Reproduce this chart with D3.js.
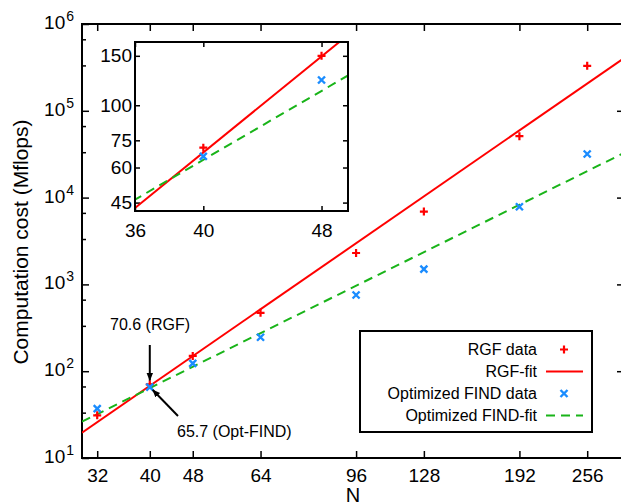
<!DOCTYPE html>
<html>
<head>
	<title>Computation cost vs N</title>
	<script type="text/javascript" src="https://d3js.org/d3.v7.min.js"></script>
	<style>
		body { margin: 0; background: #fff; }
		text { font-family: "Liberation Sans", Arial, sans-serif; fill: #000; }
	</style>
</head>
<body>
	<script type="text/javascript">
		// data
		var nValues = [32, 40, 48, 64, 96, 128, 192, 256];
		var rgfData = [31, 70.6, 150, 470, 2300, 6900, 51000, 330000];
		var findData = [37, 65.7, 123, 246, 755, 1500, 7850, 31800];

		// fit lines, end points at the plot edges
		var fitN = [30, 298];
		var rgfFit = [19.6, 397000];
		var findFit = [26.2, 32300];

		var xTicks = [32, 40, 48, 64, 96, 128, 192, 256];
		var yTicks = [10, 100, 1000, 10000, 100000, 1000000];
		var yMinor = [33.3, 66.7, 333, 667, 3333, 6667, 33333, 66667, 333333, 666667];
		var insetXTicks = [36, 40, 48];
		var insetYTicks = [45, 60, 75, 100, 150];

		var red = "#ff0000", blue = "#1a8cff", green = "#19b419";

		var W = 621, H = 503;
		// note: "top" is window.top, so use other names
		var mLeft = 82, mRight = 623, mTop = 24, mBottom = 458;

		var svg = d3.select("body").append("svg").attr("width", W).attr("height", H);

		var x = d3.scaleLog().base(2).domain([30, 298]).range([mLeft, mRight]);
		var y = d3.scaleLog().domain([10, 1e6]).range([mBottom, mTop]);

		var defs = svg.append("defs");
		defs.append("marker").attr("id", "head")
			.attr("viewBox", "0 0 10 10").attr("refX", 9).attr("refY", 5)
			.attr("markerWidth", 8).attr("markerHeight", 8).attr("orient", "auto")
			.attr("markerUnits", "userSpaceOnUse")
			.append("path").attr("d", "M0,1 L10,5 L0,9 Z").attr("fill", "#000");
		defs.append("clipPath").attr("id", "mainClip").append("rect")
			.attr("x", mLeft).attr("y", mTop).attr("width", mRight - mLeft).attr("height", mBottom - mTop);

		function plus(g, px, py, s) {
			g.append("path").attr("d", "M" + (px - s) + "," + py + "H" + (px + s) + "M" + px + "," + (py - s) + "V" + (py + s))
				.attr("stroke", red).attr("stroke-width", 2.2).attr("fill", "none");
		}
		function cross(g, px, py, s) {
			g.append("path").attr("d", "M" + (px - s) + "," + (py - s) + "L" + (px + s) + "," + (py + s) + "M" + (px - s) + "," + (py + s) + "L" + (px + s) + "," + (py - s))
				.attr("stroke", blue).attr("stroke-width", 2.4).attr("fill", "none");
		}
		function plain(g) { g.select(".domain").remove(); g.selectAll("line").attr("stroke-width", 1.5); }

		// ---- main axes (inward ticks) ----
		svg.append("g").attr("transform", "translate(0," + mBottom + ")")
			.call(d3.axisBottom(x).tickValues(xTicks).tickSize(-7).tickPadding(11).tickFormat(d3.format("d")))
			.call(plain)
			.call(function (g) { g.selectAll("text").attr("font-size", 19).attr("font-family", null); });
		svg.append("g").attr("transform", "translate(0," + mTop + ")")
			.call(d3.axisTop(x).tickValues(xTicks).tickSize(-7).tickFormat("")).call(plain);
		svg.append("g").attr("transform", "translate(" + mLeft + ",0)")
			.call(d3.axisLeft(y).tickValues(yTicks).tickSize(-7).tickFormat("")).call(plain);
		svg.append("g").attr("transform", "translate(" + mLeft + ",0)")
			.call(d3.axisLeft(y).tickValues(yMinor).tickSize(-4).tickFormat("")).call(plain);
		svg.append("g").attr("transform", "translate(" + mRight + ",0)")
			.call(d3.axisRight(y).tickValues(yTicks.slice(1, 5)).tickSize(-6).tickFormat(""))
			.call(plain);

		// y labels as 10^k
		yTicks.forEach(function (v) {
			var t = svg.append("text").attr("x", 74).attr("y", y(v) + 5).attr("text-anchor", "end").attr("font-size", 19);
			t.append("tspan").text("10");
			t.append("tspan").attr("dy", -8).attr("font-size", 14).attr("dx", 1).text(Math.round(Math.log10(v)));
		});

		svg.append("rect").attr("x", mLeft).attr("y", mTop).attr("width", mRight - mLeft).attr("height", mBottom - mTop)
			.attr("fill", "none").attr("stroke", "#000").attr("stroke-width", 2);

		svg.append("text").attr("x", 353).attr("y", 502).attr("text-anchor", "middle").attr("font-size", 20).text("N");
		svg.append("text").attr("transform", "translate(28,242) rotate(-90)").attr("text-anchor", "middle")
			.attr("font-size", 21).text("Computation cost (Mflops)");

		// ---- main plot lines and points ----
		var plot = svg.append("g").attr("clip-path", "url(#mainClip)");
		var fitLine = d3.line().x(function (d) { return x(d[0]); }).y(function (d) { return y(d[1]); });
		plot.append("path").attr("d", fitLine(d3.zip(fitN, rgfFit))).attr("stroke", red).attr("stroke-width", 2).attr("fill", "none");
		plot.append("path").attr("d", fitLine(d3.zip(fitN, findFit))).attr("stroke", green).attr("stroke-width", 2)
			.attr("stroke-dasharray", "9,6").attr("fill", "none");
		nValues.forEach(function (n, i) {
			plus(plot, x(n), y(rgfData[i]), 4);
			cross(plot, x(n), y(findData[i]), 3.5);
		});

		// ---- annotations ----
		svg.append("text").attr("x", 150).attr("y", 330).attr("text-anchor", "middle").attr("font-size", 16).text("70.6 (RGF)");
		svg.append("line").attr("x1", x(40)).attr("y1", 345).attr("x2", x(40)).attr("y2", y(70.6) - 4)
			.attr("stroke", "#000").attr("stroke-width", 2).attr("marker-end", "url(#head)");
		svg.append("text").attr("x", 177).attr("y", 437).attr("font-size", 16).text("65.7 (Opt-FIND)");
		svg.append("line").attr("x1", 178).attr("y1", 416).attr("x2", x(40) + 3).attr("y2", y(65.7) + 3)
			.attr("stroke", "#000").attr("stroke-width", 2).attr("marker-end", "url(#head)");

		// ---- legend ----
		var lg = svg.append("g");
		lg.append("rect").attr("x", 360).attr("y", 331).attr("width", 232).attr("height", 101)
			.attr("fill", "#fff").attr("stroke", "#000").attr("stroke-width", 2);
		var legendNames = ["RGF data", "RGF-fit", "Optimized FIND data", "Optimized FIND-fit"];
		legendNames.forEach(function (name, i) {
			var cy = 349.5 + i * 22;
			lg.append("text").attr("x", 537).attr("y", cy + 5.5).attr("text-anchor", "end").attr("font-size", 16).text(name);
			if (i === 0) plus(lg, 564, cy, 4);
			if (i === 2) cross(lg, 564, cy, 3.5);
			if (i === 1 || i === 3) {
				var ln = lg.append("line").attr("x1", 546).attr("x2", 583).attr("y1", cy).attr("y2", cy)
					.attr("stroke", i === 1 ? red : green).attr("stroke-width", 2);
				if (i === 3) ln.attr("stroke-dasharray", "9,6");
			}
		});

		// ---- inset ----
		var il = 135, ir = 348, it = 42, ib = 211;
		var xi = d3.scaleLog().domain([36, 50]).range([il, ir]);
		var yi = d3.scaleLog().domain([42, 168]).range([ib, it]);
		defs.append("clipPath").attr("id", "insetClip").append("rect")
			.attr("x", il).attr("y", it).attr("width", ir - il).attr("height", ib - it);

		var inset = svg.append("g");
		inset.append("rect").attr("x", il).attr("y", it).attr("width", ir - il).attr("height", ib - it).attr("fill", "#fff");

		inset.append("g").attr("transform", "translate(0," + ib + ")")
			.call(d3.axisBottom(xi).tickValues(insetXTicks).tickSize(-5).tickPadding(13).tickFormat(d3.format("d")))
			.call(plain)
			.call(function (g) { g.selectAll("text").attr("font-size", 19).attr("font-family", null); });
		inset.append("g").attr("transform", "translate(0," + it + ")")
			.call(d3.axisTop(xi).tickValues(insetXTicks).tickSize(-5).tickFormat("")).call(plain);
		inset.append("g").attr("transform", "translate(" + il + ",0)")
			.call(d3.axisLeft(yi).tickValues(insetYTicks).tickSize(-5).tickPadding(3).tickFormat(d3.format("d")))
			.call(plain)
			.call(function (g) { g.selectAll("text").attr("font-size", 19).attr("font-family", null); });
		inset.append("g").attr("transform", "translate(" + ir + ",0)")
			.call(d3.axisRight(yi).tickValues(insetYTicks).tickSize(-5).tickFormat("")).call(plain);

		var ip = inset.append("g").attr("clip-path", "url(#insetClip)");
		var insetLine = d3.line().x(function (d) { return xi(d[0]); }).y(function (d) { return yi(d[1]); });
		ip.append("path").attr("d", insetLine(d3.zip(fitN, rgfFit))).attr("stroke", red).attr("stroke-width", 2).attr("fill", "none");
		ip.append("path").attr("d", insetLine(d3.zip(fitN, findFit))).attr("stroke", green).attr("stroke-width", 2)
			.attr("stroke-dasharray", "9,6").attr("fill", "none");
		nValues.forEach(function (n, i) {
			if (n >= 36 && n <= 50) {
				plus(inset, xi(n), yi(rgfData[i]), 4);
				cross(inset, xi(n), yi(findData[i]), 3.5);
			}
		});
		inset.append("rect").attr("x", il).attr("y", it).attr("width", ir - il).attr("height", ib - it)
			.attr("fill", "none").attr("stroke", "#000").attr("stroke-width", 2);
	</script>
</body>
</html>
